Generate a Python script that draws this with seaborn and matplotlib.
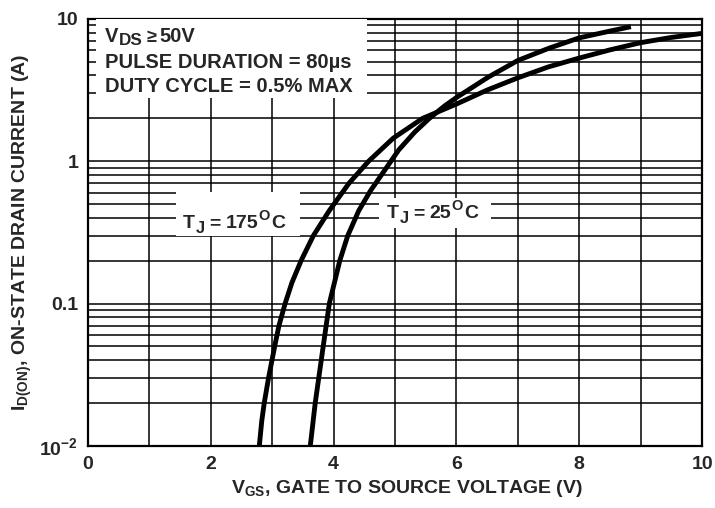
import matplotlib
matplotlib.use("Agg")
import matplotlib.pyplot as plt
import seaborn as sns
import pandas as pd
from matplotlib.ticker import FixedLocator, NullFormatter, LogLocator
from matplotlib.transforms import offset_copy
from matplotlib.patches import Rectangle

# Transfer characteristics at two junction temperatures
vgs_175 = [2.79, 2.83, 2.87, 2.94, 3.04, 3.11, 3.21, 3.32, 3.47, 3.67, 3.93,
           4.25, 4.57, 4.97, 5.45, 6.00, 6.50, 7.00, 7.50, 8.00, 8.50, 9.00,
           9.50, 10.0]
id_175 = [0.01, 0.015, 0.02, 0.03, 0.05, 0.07, 0.1, 0.14, 0.2, 0.3, 0.45,
          0.7, 1.0, 1.45, 2.0, 2.52, 3.16, 3.85, 4.6, 5.3, 6.05, 6.8,
          7.4, 7.9]

vgs_25 = [3.62, 3.70, 3.83, 3.93, 4.10, 4.23, 4.41, 4.60, 4.86, 5.06, 5.32,
          5.56, 5.81, 6.00, 6.52, 7.00, 7.50, 8.00, 8.50, 8.84]
id_25 = [0.01, 0.02, 0.05, 0.1, 0.2, 0.3, 0.45, 0.62, 0.9, 1.2, 1.6,
         2.0, 2.45, 2.8, 3.9, 5.1, 6.2, 7.35, 8.2, 8.8]

x_ticks = [0, 2, 4, 6, 8, 10]
y_ticks = [0.01, 0.1, 1, 10]
y_tick_labels = [r"10$^{-2}$", "0.1", "1", "10"]

df = pd.concat([
    pd.DataFrame({"vgs": vgs_175, "id": id_175, "tj": "175"}),
    pd.DataFrame({"vgs": vgs_25, "id": id_25, "tj": "25"}),
])

sns.set_style("white")
plt.rcParams["font.family"] = ["Liberation Sans", "DejaVu Sans"]
plt.rcParams["font.weight"] = "bold"
plt.rcParams["mathtext.default"] = "regular"

DPI = 100
fig = plt.figure(figsize=(7.15, 5.08), dpi=DPI)
ax = fig.add_axes([0.123, 0.122, 0.859, 0.841])

sns.lineplot(data=df, x="vgs", y="id", hue="tj", units="tj", estimator=None,
             palette=["black", "black"], legend=False, lw=3.5, ax=ax,
             zorder=5, solid_capstyle="butt", solid_joinstyle="round")

ax.set_yscale("log")
ax.set_xlim(0, 10)
ax.set_ylim(0.01, 10)

ax.set_xticks(x_ticks)
ax.xaxis.set_minor_locator(FixedLocator([1, 3, 5, 7, 9]))
ax.set_yticks(y_ticks)
ax.set_yticklabels(y_tick_labels)
ax.yaxis.set_minor_locator(LogLocator(base=10, subs=range(2, 10)))
ax.yaxis.set_minor_formatter(NullFormatter())

ax.grid(which="both", color="black", lw=1.1, zorder=1)
ax.set_axisbelow(True)
ax.tick_params(which="both", length=0, labelsize=14, pad=7)
for lab in ax.get_xticklabels() + ax.get_yticklabels():
    lab.set_fontweight("bold")

for sp in ax.spines.values():
    sp.set_color("black")
    sp.set_linewidth(1.6)

ax.set_xlabel(r"V$_{GS}$, GATE TO SOURCE VOLTAGE (V)", fontsize=14,
              fontweight="bold", labelpad=5)
ax.xaxis.set_label_coords(0.52, -0.075)
ax.set_ylabel(r"I$_{D(ON)}$, ON-STATE DRAIN CURRENT (A)", fontsize=14,
              fontweight="bold", labelpad=4)


def rich_text(x, y, parts, size):
    """Lay out text runs left to right from a baseline point.

    Each part is (text, scale, rise_px, gap_px_before)."""
    renderer = fig.canvas.get_renderer()
    pos = 0.0
    for text, scale, rise, gap in parts:
        pos += gap
        t = ax.text(x, y, text, fontsize=size * scale, fontweight="bold",
                    ha="left", va="baseline", zorder=6)
        t.set_transform(offset_copy(ax.transData, fig=fig, x=pos, y=rise,
                                    units="dots"))
        pos += t.get_window_extent(renderer).width


def white_box(x0, x1, y0, y1):
    ax.add_patch(Rectangle((x0, y0), x1 - x0, y1 - y0, facecolor="white",
                           edgecolor="none", zorder=3))


# test conditions block
white_box(0.13, 4.55, 2.8, 10)
rich_text(0.27, 6.9, [("V", 1, 0, 0), ("DS", 0.85, -3, 1), ("\u2265", 0.9, 0, 4),
                      ("50V", 1, 0, 3)], 14.5)
rich_text(0.27, 4.52, [("PULSE DURATION = 80\u00b5s", 1, 0, 0)], 14.5)
rich_text(0.27, 3.06, [("DUTY CYCLE = 0.5% MAX", 1, 0, 0)], 14.5)

# curve labels
white_box(1.43, 3.45, 0.30, 0.61)
rich_text(1.54, 0.337, [("T", 1, 0, 0), ("J", 0.85, -5, 1), ("=", 1, 0, 5),
                        ("175", 1, 0, 5), ("O", 0.75, 8, 0), ("C", 1, 0, 1)], 14)
white_box(4.74, 6.56, 0.337, 0.55)
rich_text(4.86, 0.397, [("T", 1, 0, 0), ("J", 0.85, -5, 1), ("=", 1, 0, 5),
                        ("25", 1, 0, 5), ("O", 0.75, 8, 0), ("C", 1, 0, 1)], 14)

fig.savefig("out.png", dpi=DPI)
